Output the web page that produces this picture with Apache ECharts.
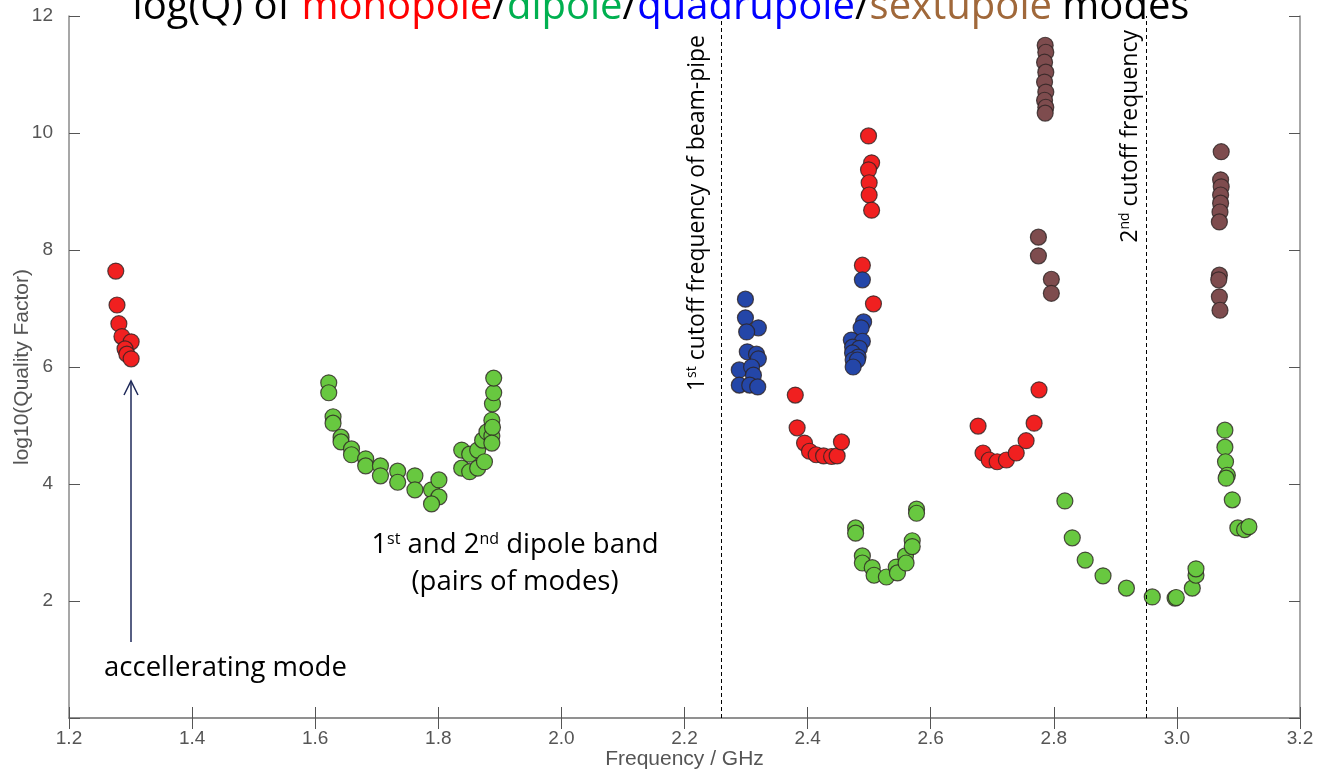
<!DOCTYPE html>
<html>
<head>
<meta charset="utf-8">
<script src="https://cdn.jsdelivr.net/npm/echarts@6/dist/echarts.min.js"></script>
<style>html,body{margin:0;padding:0;background:#fff;}#c{width:1322px;height:774px;}</style>
</head>
<body>
<div id="c"></div>
<script>
// ---- data ----
const xTicks = [1.2, 1.4, 1.6, 1.8, 2.0, 2.2, 2.4, 2.6, 2.8, 3.0, 3.2];
const yTicks = [2, 4, 6, 8, 10, 12];
const cutoffs = [2.256, 2.946];

const monopole = [
  [1.276,7.64],[1.278,7.06],[1.281,6.74],[1.286,6.52],[1.301,6.43],[1.291,6.31],[1.294,6.22],[1.301,6.14],
  [2.380,5.52],[2.383,4.96],[2.395,4.70],[2.403,4.56],[2.414,4.50],[2.426,4.48],[2.439,4.47],[2.448,4.48],[2.455,4.72],
  [2.489,7.74],[2.499,9.95],[2.504,9.49],[2.499,9.37],[2.500,9.15],[2.500,8.94],[2.504,8.68],[2.507,7.08],
  [2.677,4.99],[2.685,4.53],[2.695,4.41],[2.708,4.38],[2.723,4.41],[2.739,4.53],[2.755,4.74],[2.768,5.04],[2.776,5.61]
];
const dipole = [
  [1.622,5.73],[1.622,5.56],[1.629,5.15],[1.629,5.04],[1.642,4.80],[1.642,4.72],[1.659,4.60],[1.659,4.50],
  [1.682,4.43],[1.682,4.31],[1.706,4.31],[1.706,4.14],[1.734,4.22],[1.734,4.03],[1.762,4.14],[1.762,3.90],
  [1.789,3.90],[1.801,4.07],[1.801,3.78],[1.789,3.66],
  [1.838,4.58],[1.838,4.27],[1.851,4.51],[1.851,4.21],[1.864,4.58],[1.864,4.27],[1.875,4.38],[1.872,4.75],
  [1.879,4.89],[1.887,4.82],[1.887,5.09],[1.888,4.97],[1.888,5.37],[1.890,5.56],[1.890,5.81],[1.887,4.70],
  [2.478,3.25],[2.478,3.16],[2.489,2.77],[2.489,2.65],[2.505,2.57],[2.508,2.44],[2.528,2.41],[2.544,2.58],
  [2.546,2.48],[2.559,2.77],[2.560,2.65],[2.570,3.03],[2.570,2.93],[2.577,3.57],[2.577,3.50],
  [2.818,3.71],[2.830,3.08],[2.851,2.70],[2.880,2.43],[2.918,2.22],[2.960,2.07],[2.997,2.05],[2.999,2.06],
  [3.025,2.22],[3.031,2.44],[3.031,2.55],
  [3.078,4.92],[3.078,4.63],[3.079,4.38],[3.082,4.15],[3.080,4.10],[3.090,3.73],[3.099,3.25],[3.110,3.22],[3.117,3.27]
];
const quadrupole = [
  [2.299,7.16],[2.299,6.84],[2.320,6.67],[2.301,6.60],[2.302,6.26],[2.317,6.22],[2.320,6.14],[2.289,5.95],
  [2.309,6.00],[2.312,5.86],[2.289,5.69],[2.306,5.69],[2.319,5.66],
  [2.489,7.49],[2.491,6.77],[2.487,6.67],[2.471,6.46],[2.489,6.44],[2.473,6.34],[2.484,6.32],[2.473,6.24],
  [2.482,6.17],[2.474,6.12],[2.481,6.12],[2.474,6.00]
];
const sextupole = [
  [2.786,11.50],[2.787,11.38],[2.785,11.21],[2.787,11.04],[2.785,10.87],[2.787,10.70],[2.785,10.56],[2.787,10.44],[2.786,10.34],
  [2.775,8.22],[2.775,7.90],[2.796,7.50],[2.796,7.26],
  [3.072,9.68],[3.071,9.20],[3.072,9.08],[3.071,8.94],[3.071,8.80],[3.070,8.65],[3.069,8.48],
  [3.069,7.57],[3.068,7.49],[3.069,7.20],[3.070,6.97]
];

// ---- chart ----
const chart = echarts.init(document.getElementById('c'), null, {renderer: 'canvas'});
const axisGray = '#8a8a8a';
const labelFont = '"Liberation Sans", Arial, sans-serif';
const txtFont = '"Open Sans", "Noto Sans", sans-serif';

function scatter(name, data, color) {
  return {
    name, type: 'scatter', data, symbolSize: 16,
    itemStyle: {color, opacity: 1, borderColor: 'rgba(45,35,35,0.8)', borderWidth: 1.2},
    emphasis: {disabled: true}, z: 3
  };
}

chart.setOption({
  animation: false,
  grid: {left: 69, right: 22, top: 16, bottom: 56, containLabel: false, outerBoundsMode: 'none'},
  xAxis: [{
    type: 'value', min: 1.2, max: 3.2, interval: 0.2,
    name: 'Frequency / GHz', nameLocation: 'middle', nameGap: 31, nameMoveOverlap: false,
    nameTextStyle: {color: '#555', fontSize: 21, fontFamily: labelFont},
    axisLine: {lineStyle: {color: axisGray, width: 1.5}},
    axisTick: {inside: true, length: 11, lineStyle: {color: '#555'}},
    axisLabel: {color: '#555', fontSize: 19, fontFamily: labelFont, margin: 11,
      formatter: v => xTicks.some(t => Math.abs(t - v) < 1e-6) ? v.toFixed(1) : ''},
    splitLine: {show: false}
  }, {
    type: 'value', position: 'top', min: 1.2, max: 3.2, interval: 0.2,
    axisLine: {show: true, lineStyle: {color: axisGray, width: 1.5}},
    axisTick: {inside: true, length: 11, lineStyle: {color: '#555'}},
    axisLabel: {show: false}, splitLine: {show: false}
  }],
  yAxis: [{
    type: 'value', min: 0, max: 12, interval: 2,
    name: 'log10(Quality Factor)', nameLocation: 'middle', nameGap: 36, nameMoveOverlap: false,
    nameTextStyle: {color: '#555', fontSize: 21, fontFamily: labelFont},
    axisLine: {show: true, lineStyle: {color: axisGray, width: 1.5}},
    axisTick: {show: true, inside: true, length: 11, lineStyle: {color: '#555'}},
    axisLabel: {color: '#555', fontSize: 19, fontFamily: labelFont, margin: 16,
      formatter: v => yTicks.indexOf(v) >= 0 ? String(v) : ''},
    splitLine: {show: false}
  }, {
    type: 'value', position: 'right', min: 0, max: 12, interval: 2,
    axisLine: {show: true, lineStyle: {color: axisGray, width: 1.5}},
    axisTick: {show: true, inside: true, length: 11, lineStyle: {color: '#555'}},
    axisLabel: {show: false}, splitLine: {show: false}
  }],
  series: [
    Object.assign(scatter('monopole', monopole, '#f02020'), {
      markLine: {
        silent: true, symbol: 'none', label: {show: false},
        lineStyle: {color: '#000', type: [4, 3], width: 1},
        data: cutoffs.map(c => ({xAxis: c}))
      }
    }),
    scatter('dipole', dipole, '#68c840'),
    scatter('quadrupole', quadrupole, '#2446a8'),
    scatter('sextupole', sextupole, '#7e4c4e')
  ],
  graphic: [
    {
      type: 'text', left: 'center', top: -12, z: 10,
      style: {
        text: 'log(Q) of {r|monopole}/{g|dipole}/{b|quadrupole}/{s|sextupole} modes',
        font: '40px ' + txtFont, fill: '#000',
        rich: {
          r: {fill: '#ff0000', fontSize: 40, fontFamily: txtFont},
          g: {fill: '#00b050', fontSize: 40, fontFamily: txtFont},
          b: {fill: '#0000ff', fontSize: 40, fontFamily: txtFont},
          s: {fill: '#a0683a', fontSize: 40, fontFamily: txtFont}
        }
      }
    },
    {
      type: 'text', x: 697, y: 35, rotation: Math.PI / 2, z: 10,
      style: {
        text: '{n|1}{sup|st}{n| cutoff frequency of beam-pipe}',
        align: 'right', verticalAlign: 'middle',
        rich: {
          n: {fontSize: 23, fontFamily: txtFont, fill: '#000', lineHeight: 24},
          sup: {fontSize: 14, fontFamily: txtFont, fill: '#000', verticalAlign: 'top', lineHeight: 24}
        }
      }
    },
    {
      type: 'text', x: 1130, y: 30, rotation: Math.PI / 2, z: 10,
      style: {
        text: '{n|2}{sup|nd}{n| cutoff frequency}',
        align: 'right', verticalAlign: 'middle',
        rich: {
          n: {fontSize: 23, fontFamily: txtFont, fill: '#000', lineHeight: 24},
          sup: {fontSize: 14, fontFamily: txtFont, fill: '#000', verticalAlign: 'top', lineHeight: 24}
        }
      }
    },
    {
      type: 'text', x: 104, y: 668, z: 10,
      style: {text: 'accellerating mode', font: '27.5px ' + txtFont, fill: '#000', align: 'left', verticalAlign: 'middle'}
    },
    {
      type: 'text', x: 515, y: 545, z: 10,
      style: {
        text: '{n|1}{sp|st}{n| and 2}{sp|nd}{n| dipole band}',
        align: 'center', verticalAlign: 'middle',
        rich: {
          n: {fontSize: 27.5, fontFamily: txtFont, fill: '#000', lineHeight: 28},
          sp: {fontSize: 16, fontFamily: txtFont, fill: '#000', verticalAlign: 'top', lineHeight: 28}
        }
      }
    },
    {
      type: 'text', x: 515, y: 582, z: 10,
      style: {text: '(pairs of modes)', font: '27.5px ' + txtFont, fill: '#000', align: 'center', verticalAlign: 'middle'}
    },
    {
      type: 'line', z: 10,
      shape: {x1: 131, y1: 642, x2: 131, y2: 381},
      style: {stroke: '#1f2a5a', lineWidth: 1.5}
    },
    {
      type: 'polyline', z: 10,
      shape: {points: [[124, 395], [131, 381], [138, 395]]},
      style: {stroke: '#1f2a5a', lineWidth: 1.5, fill: null}
    }
  ]
});
</script>
</body>
</html>
